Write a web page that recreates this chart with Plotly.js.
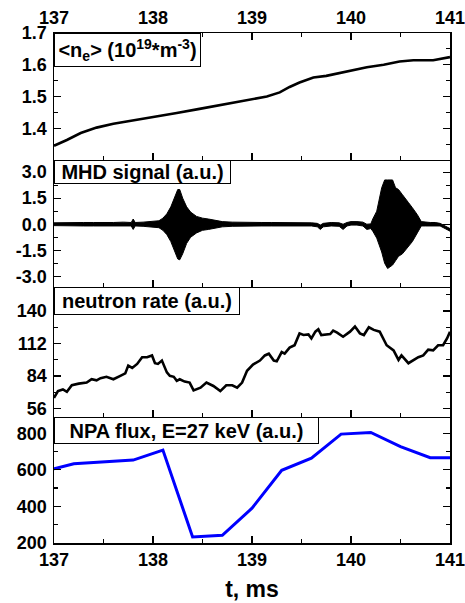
<!DOCTYPE html>
<html>
<head>
<meta charset="utf-8">
<script src="https://cdn.plot.ly/plotly-3.0.1.min.js"></script>
<style>html,body{margin:0;padding:0;background:#fff;}#chart{width:465px;height:603px;}</style>
</head>
<body>
<div id="chart"></div>
<script>
// ---- Panel 1: line-averaged density <ne>
const neT = [137.00,137.13,137.27,137.43,137.60,137.80,138.00,138.24,138.47,138.74,138.98,139.15,139.28,139.38,139.48,139.62,139.75,139.89,140.02,140.16,140.33,140.49,140.63,140.83,141.00];
const neV = [1.345,1.363,1.385,1.402,1.414,1.424,1.435,1.448,1.461,1.476,1.490,1.500,1.513,1.530,1.544,1.560,1.565,1.574,1.581,1.592,1.600,1.610,1.614,1.614,1.624];

// ---- Panel 2: MHD signal envelope (upper / lower)
const mhdT = [137.00,137.10,137.20,137.30,137.40,137.50,137.60,137.70,137.78,137.80,137.82,137.90,138.00,138.06,138.10,138.14,138.18,138.22,138.25,138.27,138.30,138.34,138.38,138.44,138.50,138.56,138.62,138.70,138.80,138.90,139.00,139.10,139.20,139.30,139.40,139.50,139.60,139.66,139.69,139.72,139.80,139.88,139.92,139.96,140.00,140.06,140.12,140.16,140.20,140.22,140.26,140.31,140.34,140.37,140.42,140.45,140.48,140.52,140.55,140.58,140.62,140.67,140.71,140.75,140.80,140.85,140.90,140.95,141.00];
const mhdUp = [0.08,0.10,0.08,0.10,0.10,0.08,0.10,0.12,0.10,0.30,0.10,0.12,0.15,0.20,0.35,0.60,1.00,1.60,2.00,2.00,1.50,1.00,0.70,0.45,0.35,0.30,0.22,0.15,0.12,0.10,0.10,0.10,0.10,0.10,0.10,0.10,0.08,0.05,-0.05,0.05,0.10,0.08,0.00,0.10,0.15,0.15,0.12,0.00,0.02,0.30,0.75,2.10,2.55,2.55,2.55,2.10,2.00,1.70,1.50,1.25,0.95,0.55,0.15,0.12,0.10,0.10,0.05,-0.10,-0.25];
const mhdLo = [-0.08,-0.10,-0.10,-0.10,-0.10,-0.10,-0.10,-0.10,-0.10,-0.30,-0.10,-0.12,-0.15,-0.20,-0.35,-0.60,-1.00,-1.60,-2.00,-2.05,-1.70,-1.10,-0.75,-0.50,-0.35,-0.30,-0.22,-0.15,-0.12,-0.10,-0.10,-0.10,-0.10,-0.10,-0.10,-0.10,-0.10,-0.15,-0.30,-0.15,-0.10,-0.12,-0.30,-0.10,-0.05,-0.05,-0.10,-0.30,-0.25,-0.40,-0.80,-1.60,-2.25,-2.55,-2.35,-2.10,-1.85,-1.70,-1.50,-1.30,-1.00,-0.50,-0.10,-0.10,-0.10,-0.10,-0.10,-0.25,-0.40];
const mhdTickVals = [-3.0,-1.5,0.0,1.5,3.0];
const mhdTickText = ["-3.0","-1.5","0.0","1.5","3.0"];

// ---- Panel 3: neutron rate
const nT = [137.00,137.04,137.09,137.13,137.18,137.25,137.33,137.38,137.43,137.47,137.53,137.60,137.67,137.72,137.75,137.79,137.84,137.89,137.94,137.99,138.02,138.05,138.09,138.14,138.17,138.21,138.24,138.27,138.32,138.37,138.41,138.48,138.54,138.61,138.68,138.74,138.80,138.85,138.90,138.95,139.01,139.08,139.13,139.17,139.22,139.25,139.30,139.33,139.38,139.43,139.48,139.52,139.57,139.60,139.64,139.67,139.70,139.79,139.82,139.86,139.92,139.99,140.04,140.09,140.13,140.18,140.23,140.29,140.36,140.43,140.48,140.51,140.58,140.63,140.68,140.73,140.78,140.83,140.88,140.93,140.97,141.00];
const nV = [65.2,71.1,72.5,70.5,76.1,77.5,78.4,81.3,80.4,82.2,83.4,81.3,84.2,86.3,93.0,91.0,94.5,100.3,100.3,101.8,95.1,94.5,97.4,87.2,84.2,83.4,79.9,81.3,79.3,78.4,71.7,74.0,78.4,75.5,71.1,76.1,76.1,74.0,78.4,88.6,93.9,97.4,101.8,103.3,97.4,96.8,104.7,103.3,108.5,110.6,120.8,119.4,119.9,116.4,122.3,124.3,119.4,120.2,123.2,121.5,117.9,122.3,126.7,120.8,119.4,126.1,123.8,122.3,110.6,106.2,98.0,101.8,95.1,97.4,100.3,101.8,106.8,106.2,110.6,110.6,116.4,122.3];

// ---- Panel 4: NPA flux, E = 27 keV
const npaT = [137.0,137.2,137.8,138.1,138.4,138.7,139.0,139.3,139.6,139.9,140.2,140.5,140.8,141.0];
const npaV = [605,633,653,708,233,242,390,597,664,795,804,727,666,666];

// ---- Panel labels
const labels = [
  "&lt;n<sub>e</sub>&gt; (10<sup>19</sup>*m<sup>-3</sup>)",
  "MHD signal (a.u.)",
  "neutron rate (a.u.)",
  "NPA flux, E=27 keV (a.u.)"
];

const FONT = "Liberation Sans, Arial, sans-serif";
const tickFont = {family: FONT, size: 18, color: "#000", weight: 700};
const lblFont = {family: FONT, size: 20, color: "#000", weight: 700};

const traces = [
  {x: neT, y: neV, xaxis: "x", yaxis: "y", mode: "lines", line: {color: "#000", width: 2.6}},
  {x: mhdT, y: mhdUp, xaxis: "x2", yaxis: "y2", mode: "lines", line: {color: "#000", width: 1}},
  {x: mhdT, y: mhdLo, xaxis: "x2", yaxis: "y2", mode: "lines", line: {color: "#000", width: 1}, fill: "tonexty", fillcolor: "#000"},
  {x: nT, y: nV, xaxis: "x3", yaxis: "y3", mode: "lines", line: {color: "#000", width: 2.6}},
  {x: npaT, y: npaV, xaxis: "x4", yaxis: "y4", mode: "lines", line: {color: "#0000ff", width: 3}}
];

function xax(anchor, extra) {
  return Object.assign({
    anchor: anchor, domain: [0, 1], range: [137, 141], dtick: 1, tick0: 137,
    ticks: "inside", ticklen: 7, tickwidth: 1.2, tickcolor: "#000",
    showline: true, linecolor: "#000", linewidth: 1.5,
    showgrid: false, zeroline: false, tickfont: tickFont, ticklabeloverflow: "allow",
    minor: {ticks: "inside", ticklen: 4, tickwidth: 1.2, tickcolor: "#000", dtick: 0.5, tick0: 137}
  }, extra);
}
function yax(anchor, domain, range, extra) {
  return Object.assign({
    anchor: anchor, domain: domain, range: range,
    ticks: "inside", ticklen: 7, tickwidth: 1.2, tickcolor: "#000",
    showline: true, linecolor: "#000", linewidth: 1.5, mirror: "ticks",
    showgrid: false, zeroline: false, tickfont: tickFont, ticklabelstandoff: 2
  }, extra);
}

const d1 = [0.751, 1], d2 = [0.5025, 0.751], d3 = [0.2476, 0.5025], d4 = [0, 0.2476];

const layout = {
  width: 465, height: 603,
  margin: {l: 54, r: 15, t: 33, b: 60},
  paper_bgcolor: "#fff", plot_bgcolor: "#fff",
  showlegend: false,
  font: {family: FONT, color: "#000"},
  xaxis: xax("y", {side: "top", mirror: "ticks", showticklabels: true}),
  xaxis2: xax("y2", {matches: "x", showticklabels: false}),
  xaxis3: xax("y3", {matches: "x", showticklabels: false}),
  xaxis4: xax("y4", {matches: "x", showticklabels: true,
    title: {text: "t, ms", font: {family: FONT, size: 23, color: "#000", weight: 700}, standoff: 12}}),
  yaxis: yax("x", d1, [1.3, 1.7], {tickmode: "array", tickvals: [1.4, 1.5, 1.6, 1.7],
    minor: {ticks: "inside", ticklen: 4, tickwidth: 1.2, tickcolor: "#000", tickmode: "array", tickvals: [1.35, 1.45, 1.55, 1.65]}}),
  yaxis2: yax("x2", d2, [-3.6, 3.7], {tickmode: "array", tickvals: mhdTickVals, ticktext: mhdTickText,
    minor: {ticks: "inside", ticklen: 4, tickwidth: 1.2, tickcolor: "#000", tickmode: "array", tickvals: [-2.25, -0.75, 0.75, 2.25]}}),
  yaxis3: yax("x3", d3, [49, 161], {dtick: 28, tick0: 0,
    minor: {ticks: "inside", ticklen: 4, tickwidth: 1.2, tickcolor: "#000", dtick: 14, tick0: 0}}),
  yaxis4: yax("x4", d4, [200, 890], {dtick: 200, tick0: 0,
    minor: {ticks: "inside", ticklen: 4, tickwidth: 1.2, tickcolor: "#000", dtick: 100, tick0: 0}}),
  annotations: [
    {text: labels[0], xref: "x domain", yref: "y domain", x: 0, y: 1, xanchor: "left", yanchor: "top",
     showarrow: false, font: lblFont, bordercolor: "#000", borderwidth: 1, borderpad: 0, bgcolor: "#fff",
     width: 145, height: 32, align: "center", valign: "middle"},
    {text: labels[1], xref: "x2 domain", yref: "y2 domain", x: 0, y: 1, xanchor: "left", yanchor: "top",
     showarrow: false, font: lblFont, bordercolor: "#000", borderwidth: 1, borderpad: 0, bgcolor: "#fff",
     width: 175, height: 22, align: "center", valign: "middle"},
    {text: labels[2], xref: "x3 domain", yref: "y3 domain", x: 0, y: 1, xanchor: "left", yanchor: "top",
     showarrow: false, font: lblFont, bordercolor: "#000", borderwidth: 1, borderpad: 0, bgcolor: "#fff",
     width: 184, height: 26, align: "center", valign: "middle"},
    {text: labels[3], xref: "x4 domain", yref: "y4 domain", x: 0, y: 1, xanchor: "left", yanchor: "top",
     showarrow: false, font: lblFont, bordercolor: "#000", borderwidth: 1, borderpad: 0, bgcolor: "#fff",
     width: 263, height: 25, align: "center", valign: "middle"}
  ]
};

Plotly.newPlot("chart", traces, layout, {displayModeBar: false, staticPlot: true});
</script>
</body>
</html>
